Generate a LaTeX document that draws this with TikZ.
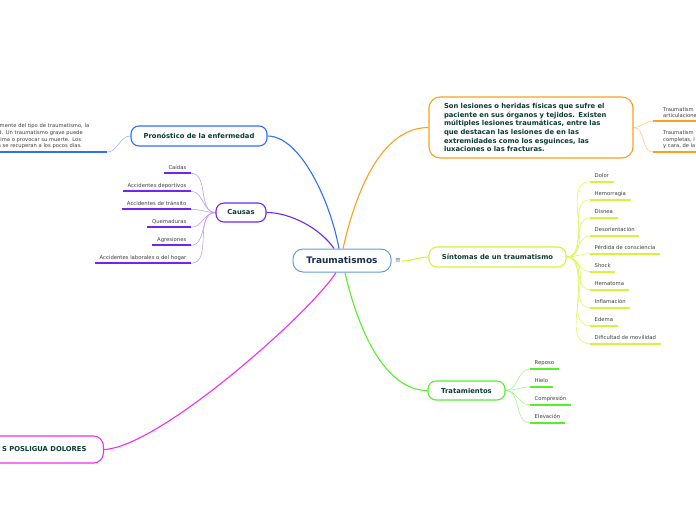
\documentclass[tikz,border=0pt]{standalone}
\usepackage{fontspec}
\setmainfont{DejaVu Sans}
\usetikzlibrary{backgrounds,positioning}

\definecolor{centerblue}{HTML}{5F9FD8}
\definecolor{pronblue}{HTML}{2F6EF5}
\definecolor{causaviolet}{HTML}{7026F0}
\definecolor{descorange}{HTML}{F9A11B}
\definecolor{sintlime}{HTML}{D4F534}
\definecolor{tratgreen}{HTML}{55EF2A}
\definecolor{dolormagenta}{HTML}{EE2EF0}
\definecolor{darktext}{HTML}{0D3B33}
\definecolor{navytext}{HTML}{1D2D50}
\definecolor{leaftext}{HTML}{3C3C3C}
\definecolor{menugray}{HTML}{5A6A80}

\begin{document}
\begin{tikzpicture}[x=1pt,y=-1pt,
			topic/.style={draw=#1, fill=white, line width=1.1pt,
				rounded corners=8pt, inner sep=0pt, text=darktext,
				font=\bfseries\fontsize{6.8}{8}\selectfont},
			leaf/.style={inner xsep=4.5pt, inner ysep=3pt,
				text=leaftext, font=\fontsize{5.3}{6.6}\selectfont,
				text height=3.8pt, text depth=1.1pt},
			note/.style={inner xsep=4.5pt, inner ysep=3pt,
				text=leaftext, font=\fontsize{5.2}{6.6}\selectfont, align=left},
			underline/.style={draw=#1, line width=1.7pt},
			link/.style={draw=#1, line width=1.1pt},
			twig/.style={draw=#1, line width=0.6pt}
		]
		\useasboundingbox (0,0) rectangle (696,520);
		\clip (0,0) rectangle (696,520);

		% central topic
		\node[topic=centerblue, text=navytext, line width=1pt, rounded corners=10pt,
			minimum width=98pt, minimum height=23pt,
			font=\bfseries\fontsize{9}{10}\selectfont] (trauma) at (342,260.5) {Traumatismos};
		\node[text=menugray, font=\fontsize{7}{7}\selectfont, inner sep=1pt] (menu) at (398,261) {≡};

		% main topics
		\node[topic=pronblue, minimum width=136pt, minimum height=20pt] (pronostico) at (199,136) {Pronóstico de la enfermedad};
		\node[topic=causaviolet, minimum width=50pt, minimum height=19pt] (causas) at (241,212.5) {Causas};
		\node[topic=descorange, minimum width=204pt, minimum height=61pt, rounded corners=11pt,
			text width=174pt, align=left,
			font=\bfseries\fontsize{6.8}{8.6}\selectfont] (definicion) at (531,127.5)
			{Son lesiones o heridas físicas que sufre el\\
			paciente en sus órganos y tejidos. Existen\\
			múltiples lesiones traumáticas, entre las\\
			que destacan las lesiones de en las\\
			extremidades como los esguinces, las\\
			luxaciones o las fracturas.};
		\node[topic=sintlime, minimum width=137pt, minimum height=20pt] (sintomas) at (497.5,257) {Síntomas de un traumatismo};
		\node[topic=tratgreen, minimum width=77pt, minimum height=19pt] (tratamientos) at (466.5,390.5) {Tratamientos};
		\node[topic=dolormagenta, minimum height=27pt, inner xsep=17pt, anchor=east, rounded corners=10pt,
			font=\bfseries\fontsize{6.8}{8}\selectfont] (dolores) at (104,449.5) {S POSLIGUA DOLORES};

		% pronostico note
		\node[note, anchor=south east, text width=104pt] (evolucion) at (107,152)
			{lmente del tipo de traumatismo, la\\
			d. Un traumatismo grave puede\\
			tima o provocar su muerte. Los\\
			s se recuperan a los pocos días.};

		% causas
		\node[leaf, anchor=south east] (caidas) at (191,173.3) {Caídas};
		\node[leaf, anchor=south east] (deportivos) at (191,191.3) {Accidentes deportivos};
		\node[leaf, anchor=south east] (transito) at (191,209.3) {Accidentes de tránsito};
		\node[leaf, anchor=south east] (quemaduras) at (191,227.3) {Quemaduras};
		\node[leaf, anchor=south east] (agresiones) at (191,245.3) {Agresiones};
		\node[leaf, anchor=south east] (laborales) at (191,263.3) {Accidentes laborales o del hogar};

		% tipos
		\node[note, anchor=south west, inner xsep=10pt] (tipoa) at (653,121) {Traumatism\\articulacione};
		\node[note, anchor=south west, inner xsep=10pt] (tipob) at (653,152) {Traumatism\\completas, l\\y cara, de la};

		% sintomas
		\node[leaf, anchor=south west] (dolor) at (590,181.7) {Dolor};
		\node[leaf, anchor=south west] (hemorragia) at (590,199.7) {Hemorragia};
		\node[leaf, anchor=south west] (disnea) at (590,217.7) {Disnea};
		\node[leaf, anchor=south west] (desorientacion) at (590,235.7) {Desorientación};
		\node[leaf, anchor=south west] (conciencia) at (590,253.7) {Pérdida de consciencia};
		\node[leaf, anchor=south west] (shock) at (590,271.7) {Shock};
		\node[leaf, anchor=south west] (hematoma) at (590,289.7) {Hematoma};
		\node[leaf, anchor=south west] (inflamacion) at (590,307.7) {Inflamación};
		\node[leaf, anchor=south west] (edema) at (590,325.7) {Edema};
		\node[leaf, anchor=south west] (movilidad) at (590,343.7) {Dificultad de movilidad};

		% tratamientos
		\node[leaf, anchor=south west] (reposo) at (530,369) {Reposo};
		\node[leaf, anchor=south west] (hielo) at (530,387) {Hielo};
		\node[leaf, anchor=south west] (compresion) at (530,405) {Compresión};
		\node[leaf, anchor=south west] (elevacion) at (530,423) {Elevación};

		% underlines
		\draw[underline=pronblue] (evolucion.south west) -- (evolucion.south east);
		\foreach \n in {tipoa,tipob}
			\draw[underline=descorange] (\n.south west) -- (\n.south east);
		\foreach \n in {caidas,deportivos,transito,quemaduras,agresiones,laborales}
			\draw[underline=causaviolet] (\n.south west) -- (\n.south east);
		\foreach \n in {dolor,hemorragia,disnea,desorientacion,conciencia,shock,hematoma,inflamacion,edema,movilidad}
			\draw[underline=sintlime] (\n.south west) -- (\n.south east);
		\foreach \n in {reposo,hielo,compresion,elevacion}
			\draw[underline=tratgreen] (\n.south west) -- (\n.south east);

		\begin{scope}[on background layer]
			% branches from the centre
			\draw[link=pronblue] ([xshift=-3pt]trauma.north) .. controls (330,200) and (300,136) .. (pronostico.east);
			\draw[link=causaviolet] ([xshift=-8pt]trauma.north) .. controls (320,228) and (290,212.5) .. (causas.east);
			\draw[link=descorange] ([xshift=1pt]trauma.north) .. controls (355,195) and (380,127.5) .. (definicion.west);
			\draw[link=sintlime] (menu.east) to[out=0,in=180] (sintomas.west);
			\draw[link=tratgreen] ([xshift=3pt]trauma.south) .. controls (358,330) and (385,390.5) .. (tratamientos.west);
			\draw[link=dolormagenta] ([xshift=-6pt]trauma.south) .. controls (311,312) and (160,447) .. (dolores.east);

			% leaves
			\draw[twig=pronblue!50] (pronostico.west) to[out=180,in=0] (evolucion.south east);
			\draw[twig=descorange!55] (definicion.east) to[out=0,in=180] (tipoa.south west);
			\draw[twig=descorange!55] (definicion.east) to[out=0,in=180] (tipob.south west);
			\foreach \n in {caidas,deportivos,transito,quemaduras,agresiones,laborales}
				\draw[twig=causaviolet!45] (causas.west) to[out=180,in=0] (\n.south east);
			\foreach \n in {dolor,hemorragia,disnea,desorientacion,conciencia,shock,hematoma,inflamacion,edema,movilidad}
				\draw[twig=sintlime!80] (sintomas.east) to[out=0,in=180] (\n.south west);
			\foreach \n in {reposo,hielo,compresion,elevacion}
				\draw[twig=tratgreen!55] (tratamientos.east) to[out=0,in=180] (\n.south west);
		\end{scope}
		\end{tikzpicture}
\end{document}
